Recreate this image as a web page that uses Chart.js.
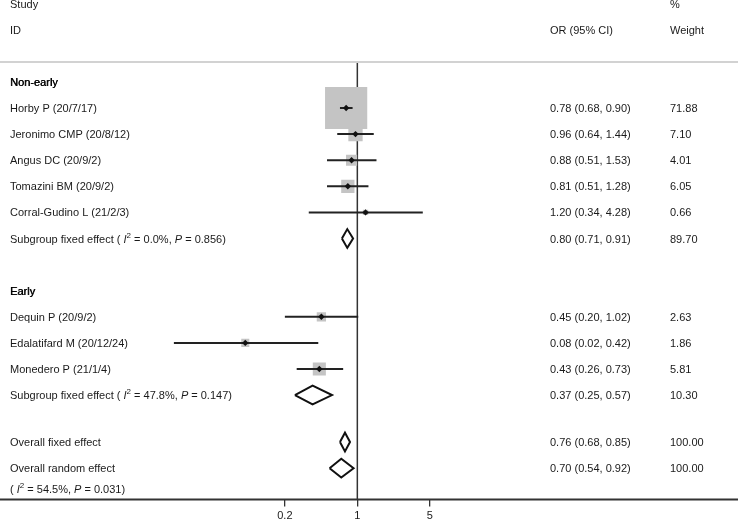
<!DOCTYPE html>
<html>
<head>
<meta charset="utf-8">
<script src="https://cdn.jsdelivr.net/npm/chart.js@4.4.0/dist/chart.umd.min.js"></script>
<style>
  html, body { margin: 0; padding: 0; background: #fff; }
  canvas { display: block; }
</style>
</head>
<body>
<canvas id="forestChart" width="738" height="520"></canvas>
<script>
// study level data (odds ratios)
const groups = ['Non-early', 'Early'];
const studies = ['Horby P (20/7/17)', 'Jeronimo CMP (20/8/12)', 'Angus DC (20/9/2)', 'Tomazini BM (20/9/2)',
                 'Corral-Gudino L (21/2/3)', 'Dequin P (20/9/2)', 'Edalatifard M (20/12/24)', 'Monedero P (21/1/4)'];
const studyGroup = [0, 0, 0, 0, 0, 1, 1, 1];
const orEst  = [0.78, 0.96, 0.88, 0.81, 1.20, 0.45, 0.083, 0.43];
const orLow  = [0.68, 0.64, 0.51, 0.51, 0.34, 0.20, 0.017, 0.26];
const orHigh = [0.90, 1.44, 1.53, 1.28, 4.28, 1.02, 0.42, 0.73];
const weights = [71.88, 7.10, 4.01, 6.05, 0.66, 2.63, 1.86, 5.81];

// subgroup pooled estimates
const subEst = [0.80, 0.37];
const subLow = [0.71, 0.25];
const subHigh = [0.91, 0.57];
const subWeight = [89.70, 10.30];
const subI2 = ['0.0', '47.8'];
const subP = ['0.856', '0.147'];

// overall pooled estimates
const overallLabels = ['Overall fixed effect', 'Overall random effect'];
const overallEst = [0.76, 0.70];
const overallLow = [0.68, 0.54];
const overallHigh = [0.85, 0.92];
const overallWeight = [100, 100];
const overallI2 = '54.5';
const overallP = '0.031';

const tickValues = [0.2, 1, 5];
const tickLabels = ['0.2', '1', '5'];

// --- row layout, built from the group structure
const groupRow = [], studyRow = [], subRow = [];
let r = 0;
groups.forEach((g, gi) => {
    groupRow.push(r++);
    studyGroup.forEach((sg, i) => { if (sg === gi) studyRow[i] = r++; });
    subRow.push(r++);
    r++; // empty line after each subgroup
});
const overallRow = [r - 0.2, r + 0.8];
const noteRow = r + 1.6;

const FONT = '"Liberation Sans", Arial, sans-serif';
const TEXT = '#1a1a1a';
const DIAMOND_H = 0.36;

function diamond(est, lo, hi, y) {
    return {
        type: 'scatter',
        showLine: true,
        data: [{x: lo, y: y}, {x: est, y: y - DIAMOND_H}, {x: hi, y: y}, {x: est, y: y + DIAMOND_H}, {x: lo, y: y}],
        borderColor: '#111',
        borderWidth: 2,
        borderJoinStyle: 'miter',
        pointRadius: 0,
        fill: false,
        tension: 0,
        order: 1
    };
}

const datasets = [];
// point estimates (on top)
datasets.push({
    type: 'scatter',
    data: orEst.map((v, i) => ({x: v, y: studyRow[i]})),
    pointStyle: 'rectRot',
    pointRadius: 3.2,
    backgroundColor: '#111',
    borderWidth: 0,
    order: 0
});
// confidence intervals
orEst.forEach((v, i) => {
    datasets.push({
        type: 'scatter',
        showLine: true,
        data: [{x: orLow[i], y: studyRow[i]}, {x: orHigh[i], y: studyRow[i]}],
        borderColor: '#222',
        borderWidth: 2,
        pointRadius: 0,
        order: 1
    });
});
// pooled diamonds
subEst.forEach((v, i) => datasets.push(diamond(v, subLow[i], subHigh[i], subRow[i])));
overallEst.forEach((v, i) => datasets.push(diamond(v, overallLow[i], overallHigh[i], overallRow[i])));
// weight boxes (drawn first)
datasets.push({
    type: 'scatter',
    data: orEst.map((v, i) => ({x: v, y: studyRow[i]})),
    pointStyle: 'rect',
    pointRadius: ctx => (4.8 * Math.sqrt(weights[ctx.dataIndex]) + 1.5) / Math.SQRT2,
    backgroundColor: '#c4c4c4',
    borderWidth: 0,
    order: 5
});

function drawRuns(ctx, x, y, runs) {
    runs.forEach(run => {
        let font = '11px ' + FONT, dy = 0;
        if (run.it) font = 'italic 11px ' + FONT;
        if (run.sup) { font = '8px ' + FONT; dy = -4; }
        ctx.font = font;
        ctx.fillText(run.t, x, y + dy);
        x += ctx.measureText(run.t).width;
    });
}

function hetRuns(prefix, i2, p) {
    return [{t: prefix + '( '}, {t: 'I', it: true}, {t: '2', sup: true}, {t: ' = ' + i2 + '%, '},
            {t: 'P', it: true}, {t: ' = ' + p + ')'}];
}

const forestPlugin = {
    id: 'forestTable',
    beforeDatasetsDraw(chart) {
        const {ctx, chartArea, scales} = chart;
        ctx.save();
        // rule under the header
        ctx.strokeStyle = '#d2d2d2';
        ctx.lineWidth = 2;
        ctx.beginPath();
        ctx.moveTo(0, chartArea.top + 1);
        ctx.lineTo(chart.width, chartArea.top + 1);
        ctx.stroke();
        // line of no effect
        const x1 = scales.x.getPixelForValue(1);
        ctx.strokeStyle = '#333';
        ctx.lineWidth = 1.5;
        ctx.beginPath();
        ctx.moveTo(x1, chartArea.top + 2);
        ctx.lineTo(x1, chartArea.bottom);
        ctx.stroke();
        // bottom rule / axis line
        ctx.lineWidth = 2;
        ctx.beginPath();
        ctx.moveTo(0, chartArea.bottom);
        ctx.lineTo(chart.width, chartArea.bottom);
        ctx.stroke();
        ctx.restore();
    },
    afterDraw(chart) {
        const {ctx, scales} = chart;
        const y = v => scales.y.getPixelForValue(v) + 1;
        const colLabel = 10, colOR = 550, colW = 670;
        const orText = (e, l, h) => e.toFixed(2) + ' (' + l.toFixed(2) + ', ' + h.toFixed(2) + ')';
        ctx.save();
        ctx.fillStyle = TEXT;
        ctx.textBaseline = 'middle';
        ctx.textAlign = 'left';
        ctx.font = '11px ' + FONT;
        // headers
        ctx.fillText('Study', colLabel, y(-3));
        ctx.fillText('ID', colLabel, y(-2));
        ctx.fillText('OR (95% CI)', colOR, y(-2));
        ctx.fillText('%', colW, y(-3));
        ctx.fillText('Weight', colW, y(-2));
        // groups
        groups.forEach((g, gi) => {
            ctx.font = '11px ' + FONT;
            ctx.fillStyle = '#000';
            ctx.fillText(g, colLabel, y(groupRow[gi]));
            ctx.fillText(g, colLabel + 0.4, y(groupRow[gi]));
            ctx.fillStyle = TEXT;
            drawRuns(ctx, colLabel, y(subRow[gi]), hetRuns('Subgroup fixed effect ', subI2[gi], subP[gi]));
            ctx.font = '11px ' + FONT;
            ctx.fillText(orText(subEst[gi], subLow[gi], subHigh[gi]), colOR, y(subRow[gi]));
            ctx.fillText(subWeight[gi].toFixed(2), colW, y(subRow[gi]));
        });
        // studies
        ctx.font = '11px ' + FONT;
        studies.forEach((s, i) => {
            ctx.fillText(s, colLabel, y(studyRow[i]));
            ctx.fillText(orText(orEst[i], orLow[i], orHigh[i]), colOR, y(studyRow[i]));
            ctx.fillText(weights[i].toFixed(2), colW, y(studyRow[i]));
        });
        // overall
        overallLabels.forEach((s, i) => {
            ctx.fillText(s, colLabel, y(overallRow[i]));
            ctx.fillText(orText(overallEst[i], overallLow[i], overallHigh[i]), colOR, y(overallRow[i]));
            ctx.fillText(overallWeight[i].toFixed(2), colW, y(overallRow[i]));
        });
        drawRuns(ctx, colLabel, y(noteRow), hetRuns('', overallI2, overallP));
        ctx.restore();
    }
};

const forestChart = new Chart(document.getElementById('forestChart').getContext('2d'), {
    type: 'scatter',
    data: { datasets: datasets },
    options: {
        responsive: false,
        animation: false,
        devicePixelRatio: 1,
        events: [],
        layout: { autoPadding: false, padding: { left: 150, right: 277, top: 61, bottom: 0 } },
        plugins: { legend: { display: false }, tooltip: { enabled: false } },
        scales: {
            x: {
                type: 'logarithmic',
                position: 'bottom',
                min: 0.01,
                max: 10,
                afterBuildTicks: axis => { axis.ticks = tickValues.map(v => ({value: v})); },
                afterFit: axis => { axis.height = 20.5; },
                ticks: {
                    autoSkip: false,
                    maxRotation: 0,
                    padding: 3,
                    color: TEXT,
                    font: { family: FONT, size: 11 },
                    callback: (v, i) => tickLabels[i]
                },
                grid: { drawOnChartArea: false, drawTicks: true, tickLength: 7, color: '#333', lineWidth: 1.3 },
                border: { display: false }
            },
            y: {
                type: 'linear',
                reverse: true,
                min: -0.8,
                max: 16,
                display: false
            }
        }
    },
    plugins: [forestPlugin]
});
</script>
</body>
</html>
